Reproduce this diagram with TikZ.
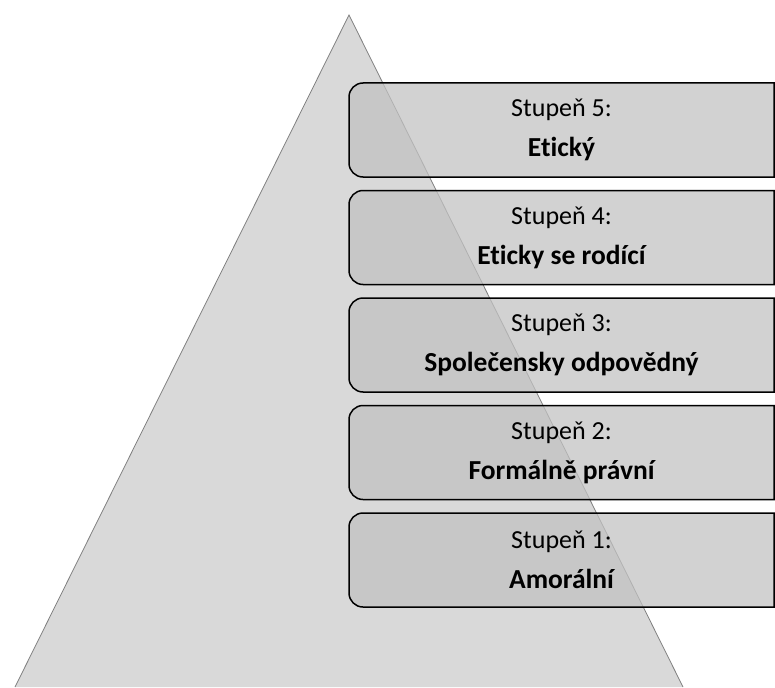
\documentclass[tikz,border=0pt]{standalone}
\usepackage{fontspec}
\setmainfont{Carlito}[Ligatures=NoCommon]
\newcommand\lvlname[1]{{\fontsize{27.5}{40}\selectfont\bfseries #1}}

\begin{document}
\begin{tikzpicture}[x=1pt,y=-1pt,
  pyramid/.style={fill=black!15,draw=black!50,line width=0.8pt},
  levelbox/.style={fill=black!24,fill opacity=0.74,draw=black,line width=1.5pt},
  leveltext/.style={align=center,inner sep=0pt,font=\fontsize{26}{40}\selectfont}]
\useasboundingbox (0,0) rectangle (775,687);

\coordinate (apex) at (349,15);
\coordinate (baseL) at (15,687);
\coordinate (baseR) at (683,687);
\filldraw[pyramid] (baseL) -- (apex) -- (baseR);

\foreach \top in {83,190.5,298,405.5,513}
  \draw[levelbox] (774,\top+47) -- (774,\top) [rounded corners=14pt] -- (349,\top) -- (349,\top+94) [sharp corners] -- (774,\top+94) -- cycle;

\node[leveltext] (lvl5) at (561.5,130) {Stupeň 5:\\\lvlname{Etický}};
\node[leveltext] (lvl4) at (561.5,237.5) {Stupeň 4:\\\lvlname{Eticky se rodící}};
\node[leveltext] (lvl3) at (561.5,345) {Stupeň 3:\\\lvlname{Společensky odpovědný}};
\node[leveltext] (lvl2) at (561.5,452.5) {Stupeň 2:\\\lvlname{Formálně právní}};
\node[leveltext] (lvl1) at (561.5,560) {Stupeň 1:\\\lvlname{Amorální}};

\end{tikzpicture}
\end{document}
